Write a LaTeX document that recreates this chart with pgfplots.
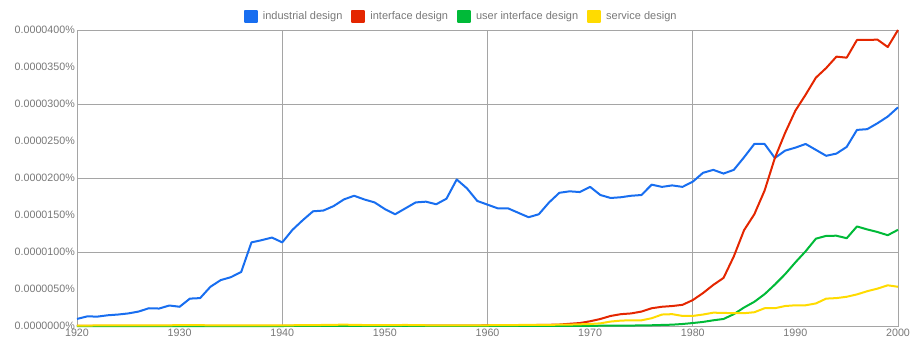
\documentclass[border=0pt]{standalone}
\usepackage{fontspec}
\setmainfont{Liberation Sans}
\usepackage{pgfplots}
\pgfplotsset{compat=1.18}
\usepackage{pgfplotstable}
\definecolor{cblue}{RGB}{24,110,240}
\definecolor{cred}{RGB}{228,38,0}
\definecolor{cgreen}{RGB}{0,186,56}
\definecolor{cyellow}{RGB}{255,219,0}
\definecolor{tgray}{RGB}{120,120,120}
\definecolor{ggray}{RGB}{165,165,165}

\pgfplotstableread{
year val
1920 9.5
1921 13
1922 12.7
1923 14.5
1924 15.5
1925 17
1926 19.5
1927 24
1928 23.6
1929 27.7
1930 26
1931 37
1932 37.7
1933 53
1934 62
1935 66
1936 73
1937 113
1938 116
1939 119.5
1940 113
1941 130
1942 143
1943 155
1944 156
1945 162
1946 171
1947 176
1948 171
1949 167
1950 158
1951 151
1952 159
1953 167
1954 168
1955 164.5
1956 172
1957 198
1958 186
1959 169
1960 164
1961 159
1962 159
1963 153
1964 147
1965 151
1966 167
1967 180
1968 182
1969 181
1970 188
1971 177
1972 173
1973 174
1974 176
1975 177
1976 191
1977 188
1978 190
1979 188
1980 195
1981 207
1982 211
1983 206
1984 211
1985 228
1986 246
1987 246
1988 227
1989 237
1990 241
1991 246
1992 238
1993 230
1994 233
1995 242
1996 265
1997 266
1998 274
1999 283
2000 295.5
}\industrial

\pgfplotstableread{
year val
1920 0.2
1925 0.3
1930 0.3
1935 0.3
1940 0.3
1945 0.4
1950 0.4
1955 0.5
1960 0.7
1962 0.9
1964 1.2
1966 1.6
1967 2
1968 3
1969 4
1970 6.4
1971 9.5
1972 13.6
1973 16
1974 17
1975 19.5
1976 24
1977 26
1978 27
1979 28.6
1980 35
1981 44.5
1982 55.5
1983 65
1984 94
1985 129.5
1986 151
1987 183
1988 227
1989 261
1990 291
1991 312.6
1992 335.6
1993 348.6
1994 364
1995 362.6
1996 386.5
1997 386.5
1998 387
1999 377
2000 400
}\interface

\pgfplotstableread{
year val
1920 0
1940 0
1960 0.1
1965 0.2
1970 0.3
1972 0.4
1974 0.6
1975 0.8
1976 1
1977 1.4
1978 1.8
1979 2.7
1980 4
1981 5.5
1982 7.7
1983 9.5
1984 16
1985 25
1986 32.7
1987 43
1988 56
1989 70
1990 86
1991 101
1992 118
1993 121.8
1994 122
1995 118.6
1996 134.5
1997 130.5
1998 127
1999 122.7
2000 130
}\userinterface

\pgfplotstableread{
year val
1920 0.6
1924 0.8
1926 1.0
1928 0.8
1931 1.3
1933 0.9
1936 0.8
1940 0.9
1943 1.2
1946 1.8
1948 1.3
1950 1.1
1952 1.4
1954 1.0
1956 0.9
1958 0.9
1960 1
1962 1.2
1964 1.5
1966 1.6
1968 1.9
1969 2.3
1970 2.7
1971 3.6
1972 6
1973 7.3
1974 7.7
1975 7.7
1976 10.5
1977 15.5
1978 16
1979 13.6
1980 13.6
1981 15.5
1982 18
1983 17.7
1984 17.3
1985 17.3
1986 18.6
1987 24
1988 24
1989 27
1990 28
1991 28
1992 30.5
1993 37
1994 37.7
1995 39.5
1996 42.7
1997 47
1998 50.5
1999 55
2000 53
}\service

\begin{document}
\begin{tikzpicture}
\path[use as bounding box] (-77pt,-30pt) rectangle (846pt,326pt);
\begin{axis}[
  at={(0pt,0pt)}, anchor=south west,
  scale only axis, width=821pt, height=296pt,
  xmin=1920, xmax=2000, ymin=0, ymax=400,
  xtick={1920,1930,1940,1950,1960,1970,1980,1990,2000},
  xticklabels={1920,1930,1940,1950,1960,1970,1980,1990,2000},
  ytick={0,50,100,150,200,250,300,350,400},
  yticklabels={0.0000000\%,0.0000050\%,0.0000100\%,0.0000150\%,0.0000200\%,0.0000250\%,0.0000300\%,0.0000350\%,0.0000400\%},
  extra x ticks={1940,1960,1980},
  extra x tick labels={},
  extra x tick style={grid=major, major grid style={ggray, line width=0.8pt}},
  extra y ticks={100,200,300},
  extra y tick labels={},
  extra y tick style={grid=major, major grid style={ggray, line width=0.8pt}},
  major tick length=0pt,
  axis line style={ggray, line width=0.8pt},
  ticklabel style={font=\fontsize{10.7}{12}\selectfont, text=tgray},
  xticklabel style={anchor=north, inner sep=0pt, yshift=-2.5pt},
  yticklabel style={anchor=east, inner sep=0pt, xshift=-2pt},
  legend columns=-1,
  legend style={at={(0.468,1)}, anchor=south, yshift=5pt, draw=none, fill=none,
    font=\fontsize{11}{13}\selectfont, text=tgray,
    /tikz/every odd column/.append style={column sep=3pt},
    /tikz/every even column/.append style={column sep=7pt}},
  legend image code/.code={\fill (0pt,-5.5pt) rectangle (12pt,5.5pt);},
  every axis plot/.append style={line width=2pt, line join=round},
  clip=false,
]
\addplot[color=cblue, no marks] table[x=year,y=val] {\industrial};
\addlegendentry{industrial design}
\addplot[color=cred, no marks] table[x=year,y=val] {\interface};
\addlegendentry{interface design}
\addplot[color=cgreen, no marks] table[x=year,y=val] {\userinterface};
\addlegendentry{user interface design}
\addplot[color=cyellow, no marks] table[x=year,y=val] {\service};
\addlegendentry{service design}
\end{axis}
\end{tikzpicture}
\end{document}
